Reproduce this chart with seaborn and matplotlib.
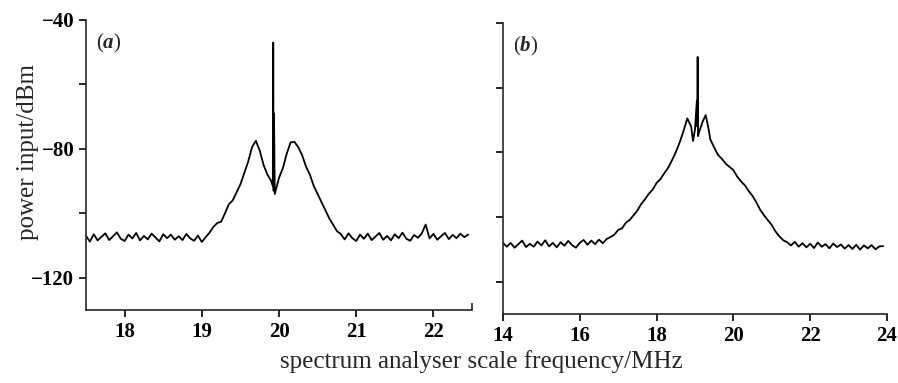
import matplotlib
matplotlib.use("Agg")
import matplotlib.pyplot as plt
import seaborn as sns
import pandas as pd

# trace (a): spectrum around 20 MHz
freq_a = [17.50, 17.55, 17.60, 17.65, 17.70, 17.75, 17.80, 17.85, 17.90, 17.95,
          18.00, 18.05, 18.10, 18.15, 18.20, 18.25, 18.30, 18.35, 18.40, 18.45,
          18.50, 18.55, 18.60, 18.65, 18.70, 18.75, 18.80, 18.85, 18.90, 18.95,
          19.00, 19.05, 19.10, 19.15, 19.20, 19.25, 19.30, 19.35, 19.40, 19.45,
          19.50, 19.55, 19.60, 19.65, 19.70, 19.75, 19.80, 19.85, 19.90, 19.92,
          19.925, 19.93, 19.935, 19.945, 20.00, 20.05, 20.10, 20.15, 20.20, 20.25,
          20.30, 20.35, 20.40, 20.45, 20.50, 20.55, 20.60, 20.65, 20.70, 20.75,
          20.80, 20.85, 20.90, 20.95, 21.00, 21.05, 21.10, 21.15, 21.20, 21.25,
          21.30, 21.35, 21.40, 21.45, 21.50, 21.55, 21.60, 21.65, 21.70, 21.75,
          21.80, 21.85, 21.90, 21.95, 22.00, 22.05, 22.10, 22.15, 22.20, 22.25,
          22.30, 22.35, 22.40, 22.45]
power_a = [-107.0, -108.8, -106.5, -108.4, -107.3, -106.2, -108.3, -107.1, -105.9, -107.9,
           -108.6, -106.6, -107.8, -106.1, -108.4, -107.0, -108.1, -106.3, -107.5, -108.7,
           -106.5, -107.7, -106.6, -108.2, -107.1, -108.3, -106.4, -107.8, -108.5, -106.9,
           -108.9, -107.4, -106.0, -104.2, -103.0, -102.6, -100.0, -97.2, -96.0, -93.5,
           -91.0, -87.5, -84.0, -79.5, -77.5, -80.5, -85.0, -88.0, -90.0, -91.5,
           -47.0, -93.0, -69.0, -94.0, -89.0, -86.0, -81.5, -78.0, -77.8, -79.5,
           -82.0, -85.5, -88.0, -91.5, -94.0, -96.5, -99.0, -101.5, -103.5, -105.5,
           -106.4, -108.1, -106.2, -107.7, -108.6, -106.6, -107.9, -106.3, -108.3, -107.2,
           -106.1, -108.2, -107.0, -108.4, -106.5, -107.7, -106.0, -107.9, -108.5, -106.7,
           -107.6, -106.2, -103.5, -107.8, -106.4, -108.2, -107.1, -106.1, -108.0, -106.7,
           -107.7, -106.3, -107.4, -106.6]

# trace (b): wider sweep, 14-24 MHz
freq_b = [14.0, 14.1, 14.2, 14.3, 14.4, 14.5, 14.6, 14.7, 14.8, 14.9,
          15.0, 15.1, 15.2, 15.3, 15.4, 15.5, 15.6, 15.7, 15.8, 15.9,
          16.0, 16.1, 16.2, 16.3, 16.4, 16.5, 16.6, 16.7, 16.8, 16.9,
          17.0, 17.1, 17.2, 17.3, 17.4, 17.5, 17.6, 17.7, 17.8, 17.9,
          18.0, 18.1, 18.2, 18.3, 18.4, 18.5, 18.6, 18.7, 18.8, 18.9,
          18.95, 19.0, 19.05, 19.06, 19.07, 19.08, 19.1, 19.2, 19.28, 19.35,
          19.4, 19.5, 19.6, 19.7, 19.8, 19.9, 20.0, 20.1, 20.2, 20.3,
          20.4, 20.5, 20.6, 20.7, 20.8, 20.9, 21.0, 21.1, 21.2, 21.3,
          21.4, 21.5, 21.6, 21.7, 21.8, 21.9, 22.0, 22.1, 22.2, 22.3,
          22.4, 22.5, 22.6, 22.7, 22.8, 22.9, 23.0, 23.1, 23.2, 23.3,
          23.4, 23.5, 23.6, 23.7, 23.8, 23.9]
power_b = [-108.0, -109.2, -108.0, -109.5, -108.4, -107.3, -109.3, -108.3, -109.2, -107.6,
           -108.8, -107.2, -109.1, -108.0, -109.4, -107.8, -108.9, -107.4, -108.7, -109.5,
           -108.0, -107.1, -108.6, -107.3, -108.4, -107.0, -108.1, -106.8, -106.2, -105.5,
           -104.0, -103.5, -101.8, -100.9, -99.5, -98.0, -96.0, -94.5, -92.8, -91.5,
           -89.5, -88.3, -86.5, -84.8, -82.5, -80.0, -77.0, -73.5, -69.5, -72.0,
           -76.5, -73.0, -64.0, -72.0, -50.5, -75.0, -74.0, -70.5, -68.5, -72.5,
           -76.0, -78.5, -80.8, -82.0, -83.5, -84.5, -85.5, -87.5, -89.0, -90.2,
           -92.0, -93.5, -95.5, -97.8, -99.5, -101.0, -102.5, -104.5, -106.0, -107.2,
           -107.8, -108.8, -107.7, -109.2, -108.1, -109.4, -108.3, -109.6, -107.9, -109.2,
           -108.4, -109.7, -108.2, -109.3, -108.5, -109.8, -108.7, -109.9, -108.6, -110.1,
           -108.8, -109.7, -108.7, -110.0, -109.1, -109.0]

y_ticks = [-120, -100, -80, -60, -40]
y_labels = ["\u2212120", "", "\u221280", "", "\u221240"]
x_ticks_a = [18, 19, 20, 21, 22]
x_ticks_b = [14, 16, 18, 20, 22, 24]

sns.set_style("ticks")
plt.rcParams["font.family"] = ["Liberation Serif", "DejaVu Serif"]
plt.rcParams["mathtext.fontset"] = "custom"
plt.rcParams["mathtext.rm"] = "Liberation Serif"
plt.rcParams["mathtext.bfit"] = "Liberation Serif:italic:bold"

fig = plt.figure(figsize=(8.98, 3.83), dpi=100)
ax_a = fig.add_axes([0.0958, 0.1906, 0.4298, 0.7572])
ax_b = fig.add_axes([0.5601, 0.1802, 0.4276, 0.7598])

df_a = pd.DataFrame({"f": freq_a, "p": power_a})
df_b = pd.DataFrame({"f": freq_b, "p": power_b})

sns.lineplot(data=df_a, x="f", y="p", ax=ax_a, color="black", lw=1.3,
             estimator=None, sort=False)
sns.lineplot(data=df_b, x="f", y="p", ax=ax_b, color="black", lw=1.3,
             estimator=None, sort=False)

for ax in (ax_a, ax_b):
    ax.set_ylim(-130, -40)
    ax.set_xlabel("")
    ax.set_ylabel("")
    for s in ("top", "right"):
        ax.spines[s].set_visible(False)
    for s in ("left", "bottom"):
        ax.spines[s].set_linewidth(1.2)
    ax.tick_params(direction="out", length=5, width=1.2, labelsize=15,
                   colors="black")
    ax.tick_params(which="minor", direction="in", length=5, width=1.2)
    ax.set_yticks(y_ticks)

ax_a.set_xlim(17.5, 22.5)
ax_a.set_xticks(x_ticks_a)
ax_a.set_xticks([22.5], minor=True)
ax_a.set_yticklabels(y_labels, fontweight="bold")
ax_a.set_xticklabels([str(t) for t in x_ticks_a], fontweight="bold")

ax_b.set_xlim(14, 24)
ax_b.set_xticks(x_ticks_b)
ax_b.set_xticks([24], minor=True)
ax_b.set_yticklabels([])
ax_b.set_xticklabels([str(t) for t in x_ticks_b], fontweight="bold")

ax_a.text(0.025, 0.96, r"($\mathbfit{a}$)", transform=ax_a.transAxes,
          fontsize=15, va="top")
ax_b.text(0.025, 0.96, r"($\mathbfit{b}$)", transform=ax_b.transAxes,
          fontsize=15, va="top")

fig.text(0.031, 0.603, "power input/dBm", rotation=90, ha="center", va="center",
         fontsize=18)
fig.text(0.536, 0.055, "spectrum analyser scale frequency/MHz", ha="center",
         va="center", fontsize=18)

fig.savefig("out.png", dpi=100)
